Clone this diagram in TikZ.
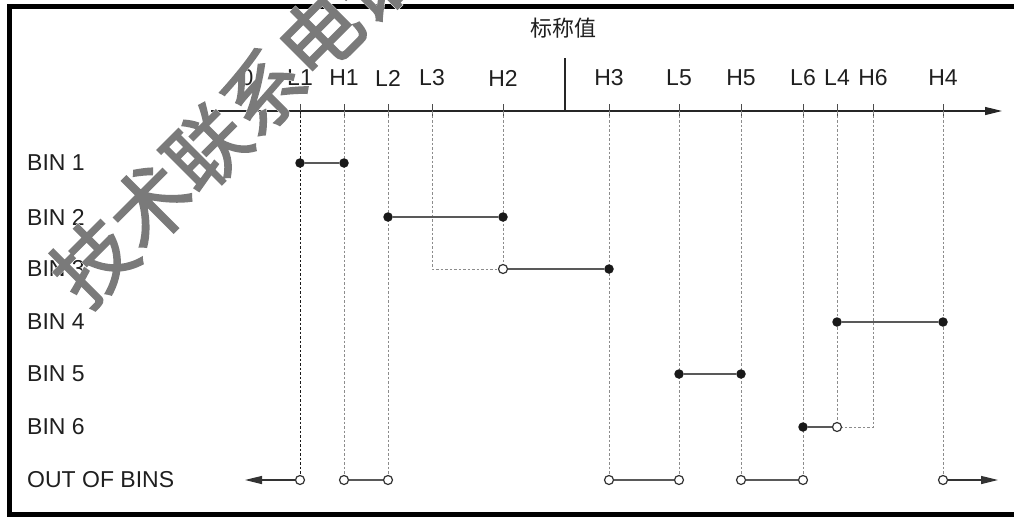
\documentclass[tikz,border=0pt]{standalone}
\usepackage{fontspec}
\setmainfont{Liberation Sans}
\newfontfamily\cjkfont{Noto Sans CJK SC}
\newfontfamily\cjkstamp[FakeBold=2]{Noto Sans CJK SC}
\newfontfamily\cjkhalo[FakeBold=3]{Noto Sans CJK SC}
\usetikzlibrary{arrows.meta}

\begin{document}
\begin{tikzpicture}[x=1pt,y=-1pt,
lbl/.style={font=\fontsize{23}{26}\selectfont,text=black!88,inner sep=0pt},
binlbl/.style={lbl,anchor=west},
axis/.style={line width=1.2pt,draw=black!85,-{Triangle[length=17pt,width=8pt]}},
tick/.style={line width=1pt,draw=black!70},
guide/.style={line width=1pt,draw=black!45,dash pattern=on 2.5pt off 2pt},
guidedark/.style={guide,draw=black!90},
seg/.style={line width=1.3pt,draw=black!65},
fdot/.style={circle,fill=black!90,inner sep=0pt,minimum size=9.5pt},
odot/.style={circle,draw=black!80,fill=white,line width=1.2pt,inner sep=0pt,minimum size=9pt},
outarrow/.style={seg,draw=black!80,-{Triangle[length=17pt,width=8pt]}},
stamp/.style={rotate=45,inner sep=0pt}
]
\useasboundingbox (0,0) rectangle (1014,517);

% frame, open on the right
\draw[line width=5pt] (1030,6) -- (9.5,6) -- (9.5,514.5) -- (1030,514.5);

% axis with the nominal value mark
\coordinate (ax0) at (211,111);
\coordinate (ax1) at (1002,111);
\draw[axis] (ax0) -- (ax1);
\node[lbl] (zero) at (247,78) {0};
\coordinate (nom) at (565,58);
\draw[tick,draw=black!85,line width=1.2pt] (nom) -- (nom |- ax0);
\node[font=\cjkfont\fontsize{22}{24}\selectfont,text=black!88,inner sep=0pt] (nomlbl) at (563,28) {标称值};

% limits along the axis
\foreach \n/\x in {L1/300,H1/344,L2/388,L3/432,H2/503,H3/609,L5/679,H5/741,L6/803,L4/837,H6/873,H4/943}{
  \coordinate (\n) at (\x,111);
  \draw[tick] (\x,104) -- (\x,117);
  \node[lbl] (t\n) at (\x,78) {\n};
}

% rows
\foreach \r/\y in {1/163,2/217,3/269,4/322,5/374,6/427}{
  \coordinate (r\r) at (0,\y);
  \node[binlbl] (bin\r) at (27,\y) {BIN \r};
}
\coordinate (ro) at (0,480);
\node[binlbl] (binout) at (27,480) {OUT OF BINS};

% guide lines down from the limits
\draw[guidedark] (L1) -- (L1 |- ro);
\foreach \n in {H1,L2,H3,L5,H5,L6,H4}
  \draw[guide] (\n) -- (\n |- ro);
\draw[guide] (H2) -- (H2 |- r3);
\draw[guide] (L3) |- (H2 |- r3);
\draw[guide] (L4) -- (L4 |- r6);
\draw[guide] (H6) |- (L4 |- r6);

% bin ranges
\node[fdot] (b1a) at (L1 |- r1) {};
\node[fdot] (b1b) at (H1 |- r1) {};
\node[fdot] (b2a) at (L2 |- r2) {};
\node[fdot] (b2b) at (H2 |- r2) {};
\node[odot] (b3a) at (H2 |- r3) {};
\node[fdot] (b3b) at (H3 |- r3) {};
\node[fdot] (b4a) at (L4 |- r4) {};
\node[fdot] (b4b) at (H4 |- r4) {};
\node[fdot] (b5a) at (L5 |- r5) {};
\node[fdot] (b5b) at (H5 |- r5) {};
\node[fdot] (b6a) at (L6 |- r6) {};
\node[odot] (b6b) at (L4 |- r6) {};
\foreach \b in {1,...,6}
  \draw[seg] (b\b a) -- (b\b b);

% out of bins
\foreach \o/\n in {1/L1,2/H1,3/L2,4/H3,5/L5,6/H5,7/L6,8/H4}
  \node[odot] (o\o) at (\n |- ro) {};
\coordinate (oleft) at (245,480);
\coordinate (oright) at (998,480);
\draw[outarrow] (o1) -- (oleft);
\draw[seg] (o2) -- (o3);
\draw[seg] (o4) -- (o5);
\draw[seg] (o6) -- (o7);
\draw[outarrow] (o8) -- (oright);

% stamp across the top left
\node[stamp,font=\cjkhalo\fontsize{80}{80}\selectfont,text=white] (wmhalo) at (235,120) {技术联系电话};
\node[stamp,font=\cjkstamp\fontsize{80}{80}\selectfont,text=black!52] (wm) at (235,120) {技术联系电话};
\end{tikzpicture}
\end{document}
